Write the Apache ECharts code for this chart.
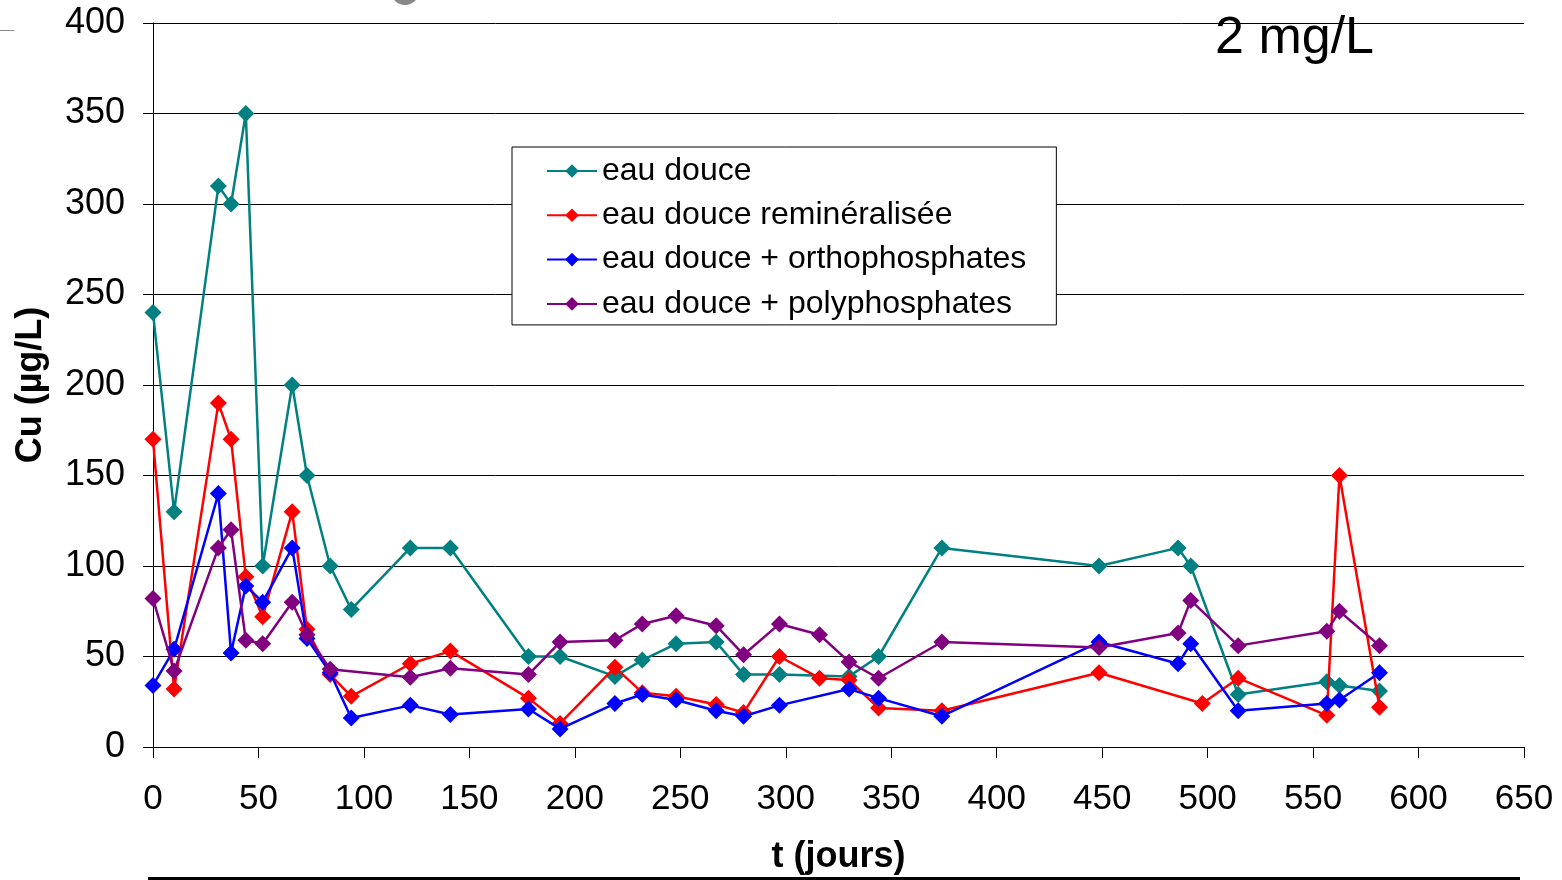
<!DOCTYPE html>
<html><head><meta charset="utf-8">
<script src="https://cdn.jsdelivr.net/npm/echarts@6/dist/echarts.min.js"></script>
<style>html,body{margin:0;padding:0;background:#fff}#c{width:1562px;height:880px}</style>
</head><body><div id="c"></div>
<script>
const seriesNames = ['eau douce', 'eau douce reminéralisée', 'eau douce + orthophosphates', 'eau douce + polyphosphates'];
const xTicks = [0,50,100,150,200,250,300,350,400,450,500,550,600,650];
const yTicks = [0,50,100,150,200,250,300,350,400];
const eauDouce = [[0,240],[10,130],[31,310],[37,300],[44,350],[52,100],[66,200],[73,150],[84,100],[94,76],[122,110],[141,110],[178,50],[193,50],[219,39],[232,48],[248,57],[267,58],[280,40],[297,40],[330,39],[344,50],[374,110],[448.5,100],[486,110],[492,100],[514.5,29],[556.5,36],[562.5,34],[581.5,31]];
const reminer = [[0,170],[10,32],[31,190],[37,170],[44,94],[52,72],[66,130],[73,65],[84,40],[94,28],[122,46],[141,53],[178,27],[193,13],[219,44],[232,30],[248,28],[267,23.5],[280,19],[297,50],[316,38],[330,37],[344,21.5],[374,20],[448.5,41],[497.5,24],[514.5,38],[556.5,17.5],[562.5,150],[581.5,22]];
const ortho = [[0,34],[10,54],[31,140],[37,52],[44,89],[52,80],[66,110],[73,60],[84,41],[94,16],[122,23],[141,18],[178,21],[193,10],[219,24],[232,29],[248,26],[267,20],[280,17],[297,23],[330,32],[344,27],[374,17],[448.5,58],[486,46],[492,57],[514.5,20],[556.5,24],[562.5,26],[581.5,41]];
const poly = [[0,82],[10,42],[31,110],[37,120],[44,59],[52,57],[66,80],[73,62],[84,43],[122,38.5],[141,43.5],[178,40],[193,58],[219,59],[232,68],[248,72.5],[267,67],[280,51],[297,68],[316,62],[330,47],[344,38],[374,58],[448.5,55],[486,63],[492,81],[514.5,56],[556.5,64],[562.5,75],[581.5,56]];
const colors = ['#008080','#FF0000','#0000FF','#800080'];
const datasets = [eauDouce, reminer, ortho, poly];

const chart = echarts.init(document.getElementById('c'));
const font = 'Liberation Sans, Arial, sans-serif';
chart.setOption({
  animation: false,
  textStyle: {fontFamily: font},
  title: {text: '2 mg/L', right: 183, top: 8, textStyle: {fontSize: 52, fontWeight: 'normal', color: '#000', fontFamily: font}},
  legend: {
    orient: 'vertical', left: 512, top: 147,
    padding: [7, 30, 4, 34], itemGap: 10.3,
    itemWidth: 50, itemHeight: 17,
    backgroundColor: '#fff', borderColor: '#000', borderWidth: 1,
    textStyle: {fontSize: 32, color: '#000', fontFamily: font, lineHeight: 34},
    data: seriesNames
  },
  grid: {left: 153, right: 38, top: 23, bottom: 129, containLabel: false},
  xAxis: {
    type: 'value', min: 0, max: 650, interval: 50,
    name: 't (jours)', nameLocation: 'middle', nameGap: 92,
    nameTextStyle: {fontSize: 36, fontWeight: 'bold', color: '#000', fontFamily: font},
    axisLine: {show: true, lineStyle: {color: '#000', width: 1}},
    axisTick: {show: true, length: 11, lineStyle: {color: '#000'}},
    axisLabel: {fontSize: 35, color: '#000', margin: 35, formatter: v => xTicks.includes(v) ? String(v) : ''},
    splitLine: {show: false}
  },
  yAxis: {
    type: 'value', min: 0, max: 400, interval: 50,
    name: 'Cu (µg/L)', nameLocation: 'middle', nameGap: 104, nameRotate: 90,
    nameTextStyle: {fontSize: 36, fontWeight: 'bold', color: '#000', fontFamily: font},
    axisLine: {show: true, lineStyle: {color: '#000', width: 1}},
    axisTick: {show: true, length: 10, lineStyle: {color: '#000'}},
    axisLabel: {fontSize: 36, color: '#000', margin: 28, formatter: v => yTicks.includes(v) ? String(v) : ''},
    splitLine: {show: true, lineStyle: {color: '#000', width: 1}}
  },
  series: datasets.map((d, i) => ({
    name: seriesNames[i], type: 'line', data: d,
    symbol: 'diamond', symbolSize: 17, showSymbol: true,
    itemStyle: {color: colors[i]},
    lineStyle: {color: colors[i], width: 2.5},
    z: 2 + i
  })),
  graphic: [
    {type: 'line', shape: {x1: 148, y1: 878.5, x2: 1520, y2: 878.5}, style: {stroke: '#000', lineWidth: 3}},
    {type: 'line', shape: {x1: 0, y1: 30.5, x2: 14, y2: 30.5}, style: {stroke: '#888', lineWidth: 1}},
    {type: 'circle', shape: {cx: 405, cy: -9, r: 14}, style: {fill: '#888'}}
  ]
});
</script></body></html>
